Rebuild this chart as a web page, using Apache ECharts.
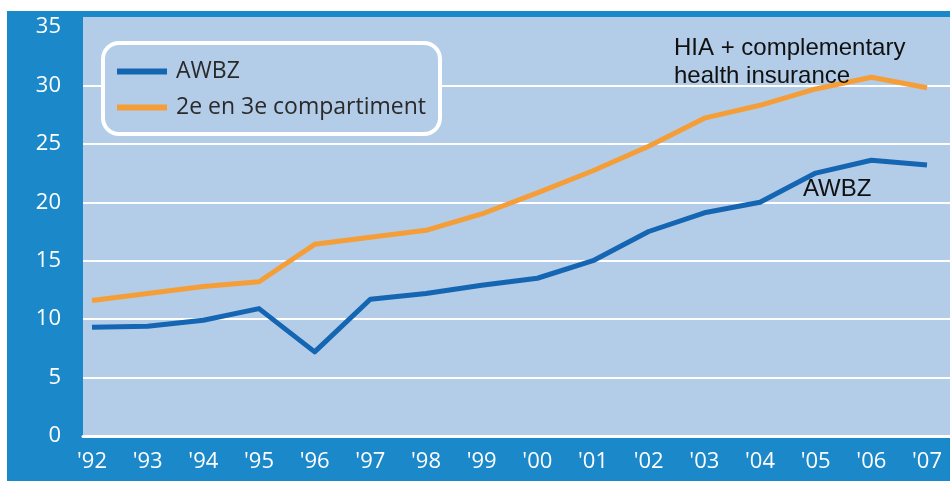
<!DOCTYPE html>
<html>
<head>
<meta charset="utf-8">
<script src="https://cdn.jsdelivr.net/npm/echarts@6/dist/echarts.min.js"></script>
<style>
  html, body { margin: 0; padding: 0; background: #fff; }
  #chart { width: 950px; height: 481px; }
</style>
</head>
<body>
<div id="chart"></div>
<script>
const years = ["'92", "'93", "'94", "'95", "'96", "'97", "'98", "'99", "'00", "'01", "'02", "'03", "'04", "'05", "'06", "'07"];
const awbz = [9.3, 9.4, 9.9, 10.9, 7.2, 11.7, 12.2, 12.9, 13.5, 15.0, 17.5, 19.1, 20.0, 22.5, 23.6, 23.2];
const compartiment = [11.6, 12.2, 12.8, 13.2, 16.4, 17.0, 17.6, 19.0, 20.8, 22.7, 24.8, 27.2, 28.3, 29.7, 30.7, 29.8];

const frameBlue = "#1a88c9";
const plotBlue = "#b3cce8";
const font = "Open Sans";

const chart = echarts.init(document.getElementById("chart"));

chart.setOption({
  backgroundColor: "#ffffff",
  animation: false,
  textStyle: { fontFamily: font },
  graphic: [
    { type: "rect", z: -10, silent: true, shape: { x: 7, y: 11, width: 943, height: 470 }, style: { fill: frameBlue } },
    { type: "rect", z: -9, silent: true, shape: { x: 83, y: 17, width: 867, height: 420 }, style: { fill: plotBlue } },
    { type: "text", z: 10, left: 674, top: 34, style: { text: "HIA + complementary\nhealth insurance", font: "24px 'Liberation Sans'", fill: "#111", lineHeight: 28 } },
    { type: "text", z: 10, left: 803, top: 177, style: { text: "AWBZ", font: "24px 'Liberation Sans'", fill: "#111" } }
  ],
  // grid 0 carries the full-width white grid lines, grid 1 the data
  grid: [
    { left: 83, right: 0, top: 27, bottom: 45 },
    { left: 92, right: 23, top: 27, bottom: 45 }
  ],
  legend: {
    orient: "vertical",
    left: 103,
    top: 43,
    padding: [17, 14, 15, 14],
    itemGap: 13,
    itemWidth: 50,
    itemHeight: 6,
    icon: "rect",
    backgroundColor: plotBlue,
    borderColor: "#ffffff",
    borderWidth: 4,
    borderRadius: 16,
    textStyle: { color: "#2a2a2a", fontSize: 23, fontFamily: font, padding: [0, 0, 0, 4] },
    data: ["AWBZ", "2e en 3e compartiment"]
  },
  xAxis: [
    {
      type: "value",
      gridIndex: 0,
      min: 0,
      max: 1,
      axisLine: { show: true, onZero: false, lineStyle: { color: "#ffffff", width: 3 } },
      axisTick: { show: false },
      axisLabel: { show: false },
      splitLine: { show: false }
    },
    {
      type: "category",
      gridIndex: 1,
      data: years,
      boundaryGap: false,
      axisLine: { show: false },
      axisTick: { show: false },
      axisLabel: { color: "#ffffff", fontSize: 22, margin: 15, fontFamily: font }
    }
  ],
  yAxis: [
    {
      type: "value",
      gridIndex: 0,
      min: 0,
      max: 35,
      interval: 5,
      axisLine: { show: false },
      axisTick: { show: false },
      axisLabel: { show: false },
      splitLine: { showMaxLine: false, lineStyle: { color: "#ffffff", width: 2 } }
    },
    {
      type: "value",
      gridIndex: 1,
      min: 0,
      max: 35,
      interval: 5,
      axisLine: { show: false },
      axisTick: { show: false },
      axisLabel: { color: "#ffffff", fontSize: 22, margin: 31, fontFamily: font },
      splitLine: { show: false }
    }
  ],
  series: [
    {
      name: "AWBZ",
      type: "line",
      xAxisIndex: 1,
      yAxisIndex: 1,
      data: awbz,
      symbol: "none",
      color: "#1566b2",
      lineStyle: { width: 5, color: "#1566b2", join: "round" }
    },
    {
      name: "2e en 3e compartiment",
      type: "line",
      xAxisIndex: 1,
      yAxisIndex: 1,
      data: compartiment,
      symbol: "none",
      color: "#f59e38",
      lineStyle: { width: 5, color: "#f59e38", join: "round" }
    }
  ]
});
</script>
</body>
</html>
